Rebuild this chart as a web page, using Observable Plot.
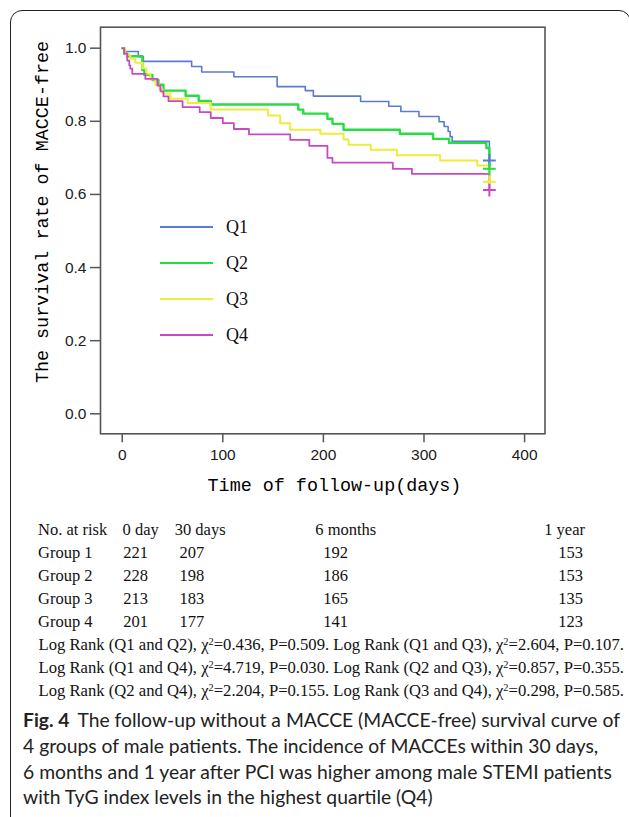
<!DOCTYPE html>
<html><head><meta charset="utf-8">
<script src="https://cdn.jsdelivr.net/npm/d3@7"></script>
<script src="https://cdn.jsdelivr.net/npm/@observablehq/plot@0.6"></script>
<style>
body{margin:0;background:#fff;}
#page{position:relative;width:629px;height:817px;overflow:hidden;background:#fff;}
.abs{position:absolute;white-space:nowrap;line-height:1;}
.serif{font-family:"Liberation Serif","Times New Roman",serif;color:#111;}
.mono{font-family:"Liberation Mono","DejaVu Sans Mono",monospace;color:#000;}
.cap{font-family:Lato,"Noto Sans",sans-serif;color:#222;}
#box{position:absolute;left:10px;top:10px;width:621px;height:900px;border:1.3px solid #222;border-radius:12px;box-sizing:border-box;}
#chart{position:absolute;left:0;top:0;}
sup{font-size:0.62em;vertical-align:0;position:relative;top:-0.5em;}
.gap{display:inline-block;}
</style></head><body><div id="page"><div id="box"></div><div id="chart"></div></div>
<script>
// ---------- data ----------
const groups = ["Q1", "Q2", "Q3", "Q4"];
const colors = ["#5b7bd0", "#27dc44", "#ecec3c", "#c64ac6"];
const widths = [1.6, 2.4, 2.0, 1.8];

const q1Time = [0, 3, 16, 21, 69, 79, 111, 154, 182, 190, 237, 265, 277, 295, 315, 320, 324, 326, 328, 365];
const q1Surv = [1.0, 0.991, 0.977, 0.964, 0.950, 0.935, 0.922, 0.895, 0.884, 0.869, 0.854, 0.841, 0.827, 0.813, 0.799, 0.786, 0.772, 0.758, 0.745, 0.693];

const q2Time = [0, 2, 5, 20, 22, 30, 36, 41, 63, 76, 88, 175, 180, 204, 209, 220, 276, 309, 325, 362, 365];
const q2Surv = [1.0, 0.985, 0.978, 0.940, 0.927, 0.913, 0.900, 0.884, 0.870, 0.856, 0.846, 0.832, 0.821, 0.807, 0.793, 0.777, 0.766, 0.752, 0.741, 0.727, 0.670];

const q3Time = [0, 3, 8, 13, 20, 24, 28, 33, 37, 40, 48, 65, 88, 145, 157, 167, 197, 220, 225, 247, 273, 316, 353, 365];
const q3Surv = [1.0, 0.982, 0.971, 0.960, 0.945, 0.930, 0.915, 0.900, 0.888, 0.876, 0.862, 0.850, 0.832, 0.816, 0.795, 0.777, 0.766, 0.750, 0.736, 0.722, 0.707, 0.693, 0.679, 0.635];

const q4Time = [0, 2, 5, 7, 8, 10, 23, 35, 38, 41, 46, 60, 77, 88, 100, 111, 126, 167, 186, 204, 209, 269, 288, 365];
const q4Surv = [1.0, 0.985, 0.966, 0.953, 0.944, 0.930, 0.916, 0.898, 0.882, 0.868, 0.855, 0.839, 0.825, 0.809, 0.795, 0.779, 0.764, 0.749, 0.733, 0.700, 0.687, 0.670, 0.656, 0.612];

const xTicks = [0, 100, 200, 300, 400];
const yTicks = [0.0, 0.2, 0.4, 0.6, 0.8, 1.0];

const riskHeaders = ["No. at risk", "0 day", "30 days", "6 months", "1 year"];
const riskGroups = ["Group 1", "Group 2", "Group 3", "Group 4"];
const risk0d = [221, 228, 213, 201];
const risk30d = [207, 198, 183, 177];
const risk6m = [192, 186, 165, 141];
const risk1y = [153, 153, 135, 123];

const lrPairs = ["Q1 and Q2", "Q1 and Q3", "Q1 and Q4", "Q2 and Q3", "Q2 and Q4", "Q3 and Q4"];
const lrChi = ["0.436", "2.604", "4.719", "0.857", "2.204", "0.298"];
const lrP = ["0.509", "0.107", "0.030", "0.355", "0.155", "0.585"];

const yTitle = "The survival rate of MACCE-free";
const xTitle = "Time of follow-up(days)";
const captionLines = [
  "The follow-up without a MACCE (MACCE-free) survival curve of",
  "4 groups of male patients. The incidence of MACCEs within 30 days,",
  "6 months and 1 year after PCI was higher among male STEMI patients",
  "with TyG index levels in the highest quartile (Q4)"
];

// ---------- build ----------
const times = [q1Time, q2Time, q3Time, q4Time];
const survs = [q1Surv, q2Surv, q3Surv, q4Surv];
const rows = groups.flatMap((g, k) => times[k].map((t, i) => ({group: g, time: t, surv: survs[k][i]})));
const ends = groups.map((g, k) => ({group: g, time: times[k][times[k].length - 1], surv: survs[k][survs[k].length - 1]}));

const chart = Plot.plot({
  width: 629, height: 505,
  marginLeft: 100, marginRight: 84.5, marginTop: 26.7, marginBottom: 71.7,
  style: {fontFamily: "Liberation Sans, Arial, sans-serif", fontSize: "15.5px", color: "#1a1a1a", background: "transparent", overflow: "visible"},
  x: {domain: [-21.6, 420.3]},
  y: {domain: [-0.0547, 1.0574]},
  color: {domain: groups, range: colors},
  marks: [
    Plot.axisX({ticks: xTicks, tickSize: 9, tickPadding: 6, stroke: "#555", strokeWidth: 1.5, label: null}),
    Plot.axisY({ticks: yTicks, tickSize: 10, tickPadding: 4, tickFormat: d => d.toFixed(1), stroke: "#555", strokeWidth: 1.5, label: null}),
    ...groups.map((g, k) => Plot.line(rows.filter(r => r.group === g), {x: "time", y: "surv", stroke: "group", strokeWidth: widths[k], curve: "step-after"})),
    Plot.dot(ends, {x: "time", y: "surv", stroke: "group", symbol: "plus", r: 4.2, strokeWidth: 2}),
    Plot.frame({stroke: "#555", strokeWidth: 1.6})
  ]
});
document.getElementById("chart").appendChild(chart);

const page = document.getElementById("page");
function add(html, cls, left, top, extra) {
  const d = document.createElement("div");
  d.className = "abs " + cls;
  d.innerHTML = html;
  d.style.left = left + "px";
  d.style.top = top + "px";
  if (extra) Object.assign(d.style, extra);
  page.appendChild(d);
  return d;
}

// axis titles
add(yTitle, "mono", 44, 211.5, {fontSize: "18.4px", transform: "translate(-50%,-50%) rotate(-90deg)"});
add(xTitle, "mono", 334.5, 487, {fontSize: "18.4px", transform: "translate(-50%,-50%)"});

// legend
const legY = [226.7, 262.7, 299.3, 335];
groups.forEach((g, k) => {
  add("", "", 160, legY[k] - 1.1, {width: "53px", height: "2.2px", background: colors[k]});
  add(g, "serif", 226, legY[k], {fontSize: "18px", transform: "translateY(-50%)"});
});

// risk table
const tableFont = 16.5;
const rowY = [530, 553, 576, 599, 622];
const headX = [38, 122.5, 174.7, 315.3, 544.2];
const numX = [123.3, 179.5, 323.3, 558.2];
const cols = [risk0d, risk30d, risk6m, risk1y];
riskHeaders.forEach((h, j) => add(h, "serif", headX[j], rowY[0], {fontSize: tableFont + "px", transform: "translateY(-50%)"}));
riskGroups.forEach((g, i) => {
  add(g, "serif", 38, rowY[i + 1], {fontSize: tableFont + "px", transform: "translateY(-50%)"});
  cols.forEach((c, j) => add(String(c[i]), "serif", numX[j], rowY[i + 1], {fontSize: tableFont + "px", transform: "translateY(-50%)"}));
});
const lrY = [645, 668, 691];
const lrEls = [];
for (let i = 0; i < 3; i++) {
  const a = 2 * i, b = 2 * i + 1;
  const txt = `Log Rank (${lrPairs[a]}), χ<sup>2</sup>=${lrChi[a]}, P=${lrP[a]}. Log Rank (${lrPairs[b]}), χ<sup>2</sup>=${lrChi[b]}, P=${lrP[b]}.`;
  lrEls.push(add(txt, "serif", 38.5, lrY[i], {fontSize: "16px", transform: "translateY(-50%)"}));
}
const lrW = lrEls[0].getBoundingClientRect().width;
const lrScale = 586 / lrW;
lrEls.forEach(e => e.style.fontSize = (16 * lrScale) + "px");

// caption
const capY = [720, 746, 772, 797];
const capEls = captionLines.map((t, i) => add(i === 0 ? `<b>Fig. 4</b><span class="gap"></span>${t}` : t, "cap", 23, capY[i], {fontSize: "18px", transform: "translateY(-50%)"}));
const cs = 599 / capEls[2].getBoundingClientRect().width;
capEls.forEach(e => e.style.fontSize = (18 * cs) + "px");
const gapEl = capEls[0].querySelector(".gap");
const w1 = capEls[0].getBoundingClientRect().width;
const gapW = 597 - w1;
if (gapW > 4) {
  gapEl.style.width = gapW + "px";
} else {
  gapEl.style.width = "8px";
  const w1b = capEls[0].getBoundingClientRect().width;
  const s = Math.min(1, 597 / w1b);
  capEls.forEach(e => e.style.fontSize = (18 * cs * s) + "px");
}
</script></body></html>
